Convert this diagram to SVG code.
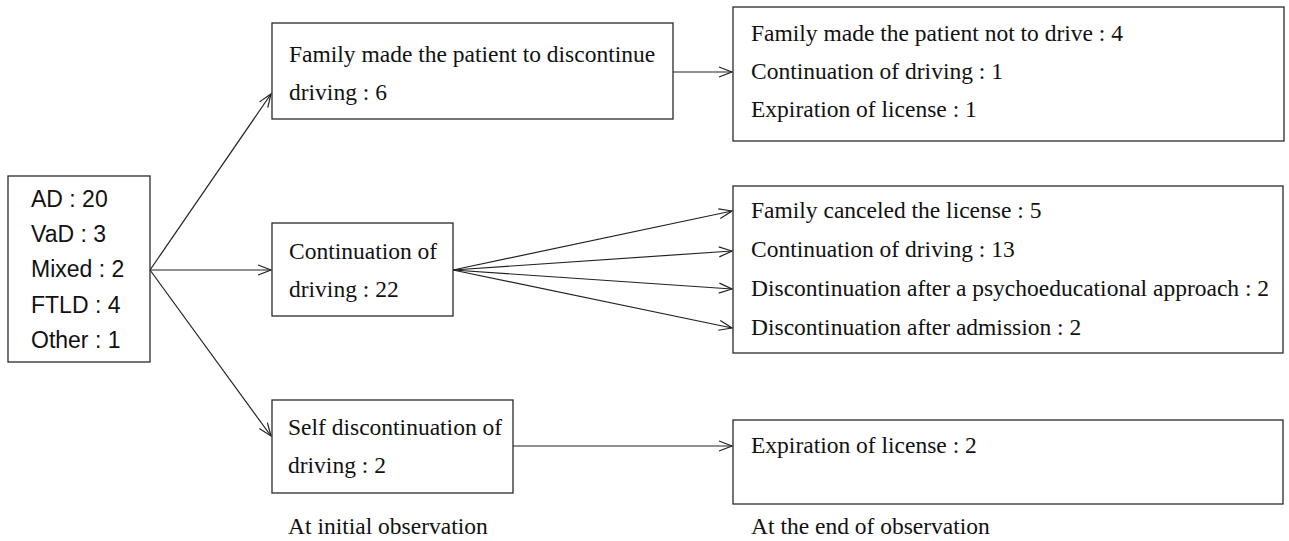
<svg xmlns="http://www.w3.org/2000/svg" width="1289" height="541" viewBox="0 0 1289 541">
<style>
.box{fill:#fff;stroke:#2a2a2a;stroke-width:1.3}
.sans{font-family:"Liberation Sans",Arial,sans-serif;font-size:23px;fill:#111}
.serif{font-family:"Liberation Serif","Times New Roman",serif;font-size:23.5px;fill:#111}
.conn{stroke:#222;stroke-width:1.2;fill:none;marker-end:url(#ah)}
</style>
<defs>
<marker id="ah" markerWidth="16" markerHeight="12" refX="14" refY="6" orient="auto" markerUnits="userSpaceOnUse">
<path d="M1,1 L14,6 L1,11" fill="none" stroke="#222" stroke-width="1.2"/>
</marker>
</defs>
<rect width="1289" height="541" fill="#fff"/>
<g id="connectors">
<line class="conn" x1="150" y1="270" x2="271" y2="94"/>
<line class="conn" x1="150" y1="270" x2="271" y2="270"/>
<line class="conn" x1="150" y1="270" x2="271" y2="436"/>
<line class="conn" x1="673" y1="72" x2="732" y2="72"/>
<line class="conn" x1="453" y1="270" x2="732" y2="211"/>
<line class="conn" x1="453" y1="270" x2="732" y2="251"/>
<line class="conn" x1="453" y1="270" x2="732" y2="289"/>
<line class="conn" x1="453" y1="270" x2="732" y2="328"/>
<line class="conn" x1="513" y1="446" x2="732" y2="446"/>
</g>
<g id="diagnosis">
<rect class="box" x="8" y="176" width="142" height="186"/>
<text class="sans" x="31" y="207">AD : 20</text>
<text class="sans" x="31" y="242">VaD : 3</text>
<text class="sans" x="31" y="277">Mixed : 2</text>
<text class="sans" x="31" y="313">FTLD : 4</text>
<text class="sans" x="31" y="348">Other : 1</text>
</g>
<g id="family-discontinue">
<rect class="box" x="272" y="23" width="401" height="96"/>
<text class="serif" x="289" y="62">Family made the patient to discontinue</text>
<text class="serif" x="289" y="100">driving : 6</text>
</g>
<g id="continuation">
<rect class="box" x="272" y="223" width="181" height="93"/>
<text class="serif" x="289" y="259">Continuation of</text>
<text class="serif" x="289" y="297">driving : 22</text>
</g>
<g id="self-discontinuation">
<rect class="box" x="272" y="400" width="241" height="93"/>
<text class="serif" x="288" y="435">Self discontinuation of</text>
<text class="serif" x="288" y="473">driving : 2</text>
</g>
<g id="outcome-family">
<rect class="box" x="733" y="7" width="551" height="134"/>
<text class="serif" x="751" y="41">Family made the patient not to drive : 4</text>
<text class="serif" x="751" y="79">Continuation of driving : 1</text>
<text class="serif" x="751" y="117">Expiration of license : 1</text>
</g>
<g id="outcome-continuation">
<rect class="box" x="733" y="186" width="550" height="167"/>
<text class="serif" x="751" y="218">Family canceled the license : 5</text>
<text class="serif" x="751" y="257">Continuation of driving : 13</text>
<text class="serif" x="751" y="296">Discontinuation after a psychoeducational approach : 2</text>
<text class="serif" x="751" y="335">Discontinuation after admission : 2</text>
</g>
<g id="outcome-self">
<rect class="box" x="733" y="420" width="550" height="84"/>
<text class="serif" x="751" y="453">Expiration of license : 2</text>
</g>
<g id="captions">
<text class="serif" x="288" y="534">At initial observation</text>
<text class="serif" x="751" y="534">At the end of observation</text>
</g>
</svg>
